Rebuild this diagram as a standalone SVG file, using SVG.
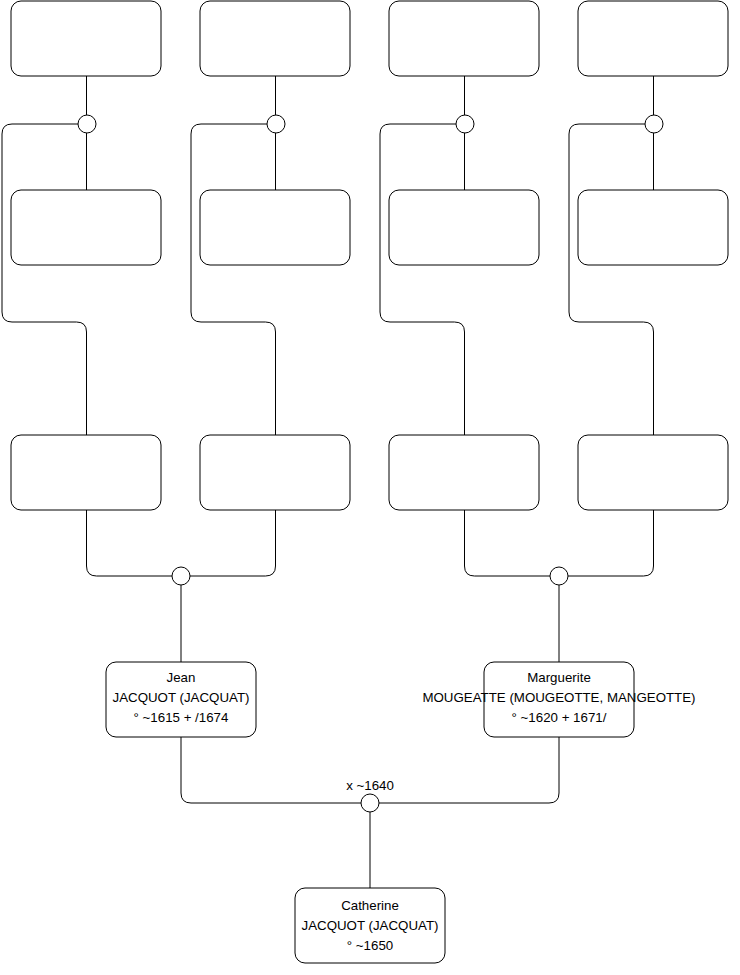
<svg xmlns="http://www.w3.org/2000/svg" width="740" height="975" viewBox="0 0 740 975">
<style>
.box{fill:#fff;stroke:#000;stroke-width:1}
.dot{fill:#fff;stroke:#000;stroke-width:1}
.ln{fill:none;stroke:#000;stroke-width:1}
text{font-family:"Liberation Sans",Arial,sans-serif;font-size:13.3px;fill:#000;text-anchor:middle}
</style>
<rect width="740" height="975" fill="#fff"/>
<g id="connectors">
<path class="ln" d="M86.5 76V115"/>
<path class="ln" d="M86.5 133V190"/>
<path class="ln" d="M78 124H12Q2 124 2 134V312Q2 322 12 322H76.5Q86.5 322 86.5 332V435"/>
<path class="ln" d="M275.5 76V115"/>
<path class="ln" d="M275.5 133V190"/>
<path class="ln" d="M267 124H201Q191 124 191 134V312Q191 322 201 322H265.5Q275.5 322 275.5 332V435"/>
<path class="ln" d="M464.5 76V115"/>
<path class="ln" d="M464.5 133V190"/>
<path class="ln" d="M456 124H390Q380 124 380 134V312Q380 322 390 322H454.5Q464.5 322 464.5 332V435"/>
<path class="ln" d="M653.5 76V115"/>
<path class="ln" d="M653.5 133V190"/>
<path class="ln" d="M645 124H579Q569 124 569 134V312Q569 322 579 322H643.5Q653.5 322 653.5 332V435"/>
<path class="ln" d="M86.5 510V566Q86.5 576 96.5 576H172"/>
<path class="ln" d="M275.5 510V566Q275.5 576 265.5 576H190"/>
<path class="ln" d="M181 585V662"/>
<path class="ln" d="M464.5 510V566Q464.5 576 474.5 576H550"/>
<path class="ln" d="M653.5 510V566Q653.5 576 643.5 576H568"/>
<path class="ln" d="M559 585V662"/>
<path class="ln" d="M181 737V793Q181 803 191 803H361"/>
<path class="ln" d="M559 737V793Q559 803 549 803H379"/>
<path class="ln" d="M370 812V888"/>
<text x="370" y="790">x ~1640</text>
</g>
<g id="n1"><rect class="box" x="11" y="1" width="150" height="75" rx="10"/></g>
<g id="n2"><rect class="box" x="200" y="1" width="150" height="75" rx="10"/></g>
<g id="n3"><rect class="box" x="389" y="1" width="150" height="75" rx="10"/></g>
<g id="n4"><rect class="box" x="578" y="1" width="150" height="75" rx="10"/></g>
<g id="u1"><circle class="dot" cx="87" cy="124" r="9"/></g>
<g id="u2"><circle class="dot" cx="276" cy="124" r="9"/></g>
<g id="u3"><circle class="dot" cx="465" cy="124" r="9"/></g>
<g id="u4"><circle class="dot" cx="654" cy="124" r="9"/></g>
<g id="n5"><rect class="box" x="11" y="190" width="150" height="75" rx="10"/></g>
<g id="n6"><rect class="box" x="200" y="190" width="150" height="75" rx="10"/></g>
<g id="n7"><rect class="box" x="389" y="190" width="150" height="75" rx="10"/></g>
<g id="n8"><rect class="box" x="578" y="190" width="150" height="75" rx="10"/></g>
<g id="n9"><rect class="box" x="11" y="435" width="150" height="75" rx="10"/></g>
<g id="n10"><rect class="box" x="200" y="435" width="150" height="75" rx="10"/></g>
<g id="n11"><rect class="box" x="389" y="435" width="150" height="75" rx="10"/></g>
<g id="n12"><rect class="box" x="578" y="435" width="150" height="75" rx="10"/></g>
<g id="u5"><circle class="dot" cx="181" cy="576" r="9"/></g>
<g id="u6"><circle class="dot" cx="559" cy="576" r="9"/></g>
<g id="jean"><rect class="box" x="106" y="662" width="150" height="75" rx="10"/>
<text x="181" y="682">Jean</text><text x="181" y="702">JACQUOT (JACQUAT)</text><text x="181" y="722">° ~1615 + /1674</text></g>
<g id="marguerite"><rect class="box" x="484" y="662" width="150" height="75" rx="10"/>
<text x="559" y="682">Marguerite</text><text x="559" y="702">MOUGEATTE (MOUGEOTTE, MANGEOTTE)</text><text x="559" y="722">° ~1620 + 1671/</text></g>
<g id="u7"><circle class="dot" cx="370" cy="803" r="9"/></g>
<g id="catherine"><rect class="box" x="295" y="888" width="150" height="75" rx="10"/>
<text x="370" y="910">Catherine</text><text x="370" y="930">JACQUOT (JACQUAT)</text><text x="370" y="950">° ~1650</text></g>
</svg>
